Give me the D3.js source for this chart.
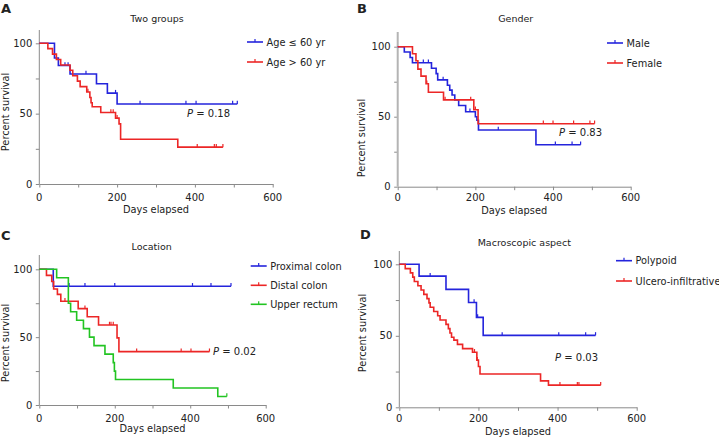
<!DOCTYPE html>
<html><head><meta charset="utf-8">
<script src="https://cdnjs.cloudflare.com/ajax/libs/d3/7.8.5/d3.min.js"></script>
<style>
body{margin:0;background:#fff;}
svg{display:block;}
text{font-family:"DejaVu Sans",Verdana,sans-serif;fill:#222;}
</style></head><body>
<svg id="c" width="719" height="443"></svg>
<script>
// ---------- DATA ----------
const xTicks = [0,100,200,300,400,500,600];
const xTickLabels = [0,200,400,600];
const yTicks = [0,25,50,75,100];
const yTickLabels = [0,50,100];

// Panel A: Two groups
const aLowTimes = [39,49,79,147,175,200];
const aLowSurv  = [89.5,84.2,78.2,71.3,64.6,56.9];
const aLowCens  = [66,74,120,196,259,377,403,497,509];
const aHighTimes = [22,34,44,55,79,86,98,105,122,130,133,136,158,196,205,209,356];
const aHighSurv  = [96.2,92.3,88.5,84.6,80.8,76.9,73.1,69.2,65.4,61.5,57.7,54.9,50.8,46.8,42.7,31.8,26.2];
const aHighCens  = [125,184,190,200,406,450,455,472];

// Panel B: Gender
const bMaleTimes = [17,32,38,87,99,103,128,134,140,147,157,175,200,204,208,356];
const bMaleSurv  = [96.2,92.3,88.5,84.6,80.8,76.3,72.5,69,65.5,62,58,53.5,50,47.5,40.5,30];
const bMaleCens  = [66,79,117,186,259,406,449,471];
const bFemTimes = [38,47,52,60,73,79,118,196,207];
const bFemSurv  = [95,90,84,79,73.5,67.5,62,55,45];
const bFemCens  = [75,122,188,200,375,400,453,495,507];

// Panel C: Location
const cProxTimes = [37];
const cProxSurv  = [87.5];
const cProxCens  = [79,121,200,406,455,508];
const cDistTimes = [19,33,38,48,57,103,127,157,206,211];
const cDistSurv  = [95.5,91,85.5,81.5,76.5,71,65,59,49.5,39.3];
const cDistCens  = [68,121,186,190,196,258,376,402,451];
const cRectTimes = [46,77,83,99,117,133,145,174,196,199,202,355,473];
const cRectSurv  = [93.75,75,68.75,62.5,56.25,50,43.75,37.5,31.25,25,18.75,12.5,6.25];
const cRectCens  = [497];

// Panel D: Macroscopic aspect
const dPolyTimes = [50,118,175,195,212];
const dPolySurv  = [91.7,82.5,73.3,62.9,50.3];
const dPolyCens  = [78,189,198,260,403,471,496];
const dUlcTimes = [15,28,34,38,47,55,62,70,75,78,87,97,103,118,124,128,132,138,147,160,185,196,200,204,357,377];
const dUlcSurv  = [97,94,91,88,85,82,79,76,73,70,67,64,61,58,55,52,49,47,44,41,38.5,33,28.5,23.3,18.5,15.5];
const dUlcCens  = [190,197,406,450,454,509];

const titles = ["Two groups","Gender","Location","Macroscopic aspect"];
const letters = ["A","B","C","D"];
const pValues = ["0.18","0.83","0.02","0.03"];

const BLUE="#2424dc", RED="#ec2626", GREEN="#22c422";

const panels = [
 {x0:39.3,x1:272.7,yb:184,yt:43.3,axTop:30, tx:157,ty:22, lx:1,ly:12.5, ylx:6,yly:112, pX:187,pY:117,
  xlY:213,tlY:200.5, legX:247,legY:[42,62], series:[
   {name:"Age \u2264 60 yr",color:BLUE,t:aLowTimes,s:aLowSurv,c:aLowCens},
   {name:"Age > 60 yr",color:RED,t:aHighTimes,s:aHighSurv,c:aHighCens}]},
 {x0:397.7,x1:630.7,yb:186.7,yt:46.7,axTop:32, tx:515.7,ty:22, lx:357,ly:13, ylx:362,yly:138, pX:559,pY:136,
  xlY:214,tlY:201, legX:607,legY:[43,63], series:[
   {name:"Male",color:BLUE,t:bMaleTimes,s:bMaleSurv,c:bMaleCens},
   {name:"Female",color:RED,t:bFemTimes,s:bFemSurv,c:bFemCens}]},
 {x0:39.3,x1:265.7,yb:405,yt:269.3,axTop:255, tx:151.7,ty:250, lx:1,ly:240, ylx:6,yly:343, pX:213,pY:355,
  xlY:432,tlY:421.5, legX:250.7,legY:[266,285.3,304.3], series:[
   {name:"Proximal colon",color:BLUE,t:cProxTimes,s:cProxSurv,c:cProxCens},
   {name:"Distal colon",color:RED,t:cDistTimes,s:cDistSurv,c:cDistCens},
   {name:"Upper rectum",color:GREEN,t:cRectTimes,s:cRectSurv,c:cRectCens}]},
 {x0:399.3,x1:636.7,yb:407.3,yt:264.3,axTop:251, tx:524.3,ty:245.5, lx:360,ly:238.5, ylx:363,yly:333, pX:555,pY:360.5,
  xlY:435,tlY:421.5, legX:616,legY:[260.7,281], series:[
   {name:"Polypoid",color:BLUE,t:dPolyTimes,s:dPolySurv,c:dPolyCens},
   {name:"Ulcero-infiltrative",color:RED,t:dUlcTimes,s:dUlcSurv,c:dUlcCens}]}
];

const svg = d3.select("#c");
const FS = 9.5;

panels.forEach((p,i)=>{
  const x = d3.scaleLinear().domain([0,600]).range([p.x0,p.x1]);
  const y = d3.scaleLinear().domain([0,100]).range([p.yb,p.yt]);
  const g = svg.append("g");

  // axes
  const xa = g.append("g").attr("transform",`translate(0,${p.yb})`)
    .call(d3.axisBottom(x).tickValues(xTicks).tickSize(3.5).tickSizeOuter(0)
      .tickFormat(d=> xTickLabels.includes(d)? d : ""));
  xa.select(".domain").attr("stroke","#8a8a8a");
  xa.selectAll(".tick line").attr("stroke","#8a8a8a");
  xa.selectAll(".tick text").remove();
  xTickLabels.forEach(v=>{
    g.append("text").attr("x",x(v)).attr("y",p.tlY).attr("text-anchor","middle")
     .attr("font-size",FS+0.5).text(v);
  });

  const ya = g.append("g").attr("transform",`translate(${p.x0},0)`)
    .call(d3.axisLeft(y).tickValues(yTicks).tickSize(3.5).tickSizeOuter(0).tickFormat(""));
  ya.select(".domain").remove();
  ya.selectAll(".tick line").attr("stroke","#8a8a8a");
  g.append("line").attr("x1",p.x0).attr("x2",p.x0).attr("y1",p.yb).attr("y2",p.axTop)
    .attr("stroke", i===1? "#b4b4b4":"#8a8a8a").attr("stroke-width", i===1?2:1);
  yTickLabels.forEach(v=>{
    g.append("text").attr("x",p.x0-7).attr("y",y(v)).attr("dy","0.36em")
     .attr("text-anchor","end").attr("font-size",FS+0.5).text(v);
  });

  // labels
  g.append("text").attr("x",p.tx).attr("y",p.ty).attr("text-anchor","middle")
    .attr("font-size",FS).text(titles[i]);
  g.append("text").attr("x",(p.x0+p.x1)/2).attr("y",p.xlY).attr("text-anchor","middle")
    .attr("font-size",FS+0.3).text("Days elapsed");
  g.append("text").attr("transform",`translate(${p.ylx},${p.yly}) rotate(-90)`)
    .attr("dy","0.35em").attr("text-anchor","middle").attr("font-size",FS+0.3).text("Percent survival");
  g.append("text").attr("x",p.lx).attr("y",p.ly).attr("font-family","'Liberation Sans',Arial,sans-serif")
    .attr("font-weight","bold").attr("font-size",13).text(letters[i]);
  const pt = g.append("text").attr("x",p.pX).attr("y",p.pY).attr("font-size",FS+0.5);
  pt.append("tspan").attr("font-style","italic").text("P");
  pt.append("tspan").text(" = "+pValues[i]);

  // curves
  p.series.forEach((s,k)=>{
    const end = Math.max(d3.max(s.c)||0, d3.max(s.t));
    const pts = [[0,100]];
    s.t.forEach((t,j)=>pts.push([t,s.s[j]]));
    pts.push([end, s.s[s.s.length-1]]);
    const survAt = t => { let v=100; s.t.forEach((tt,j)=>{ if(tt<=t) v=s.s[j]; }); return v; };
    const line = d3.line().x(d=>x(d[0])).y(d=>y(d[1])).curve(d3.curveStepAfter);
    g.append("path").attr("d",line(pts)).attr("fill","none").attr("stroke",s.color)
      .attr("stroke-width",1.6).attr("stroke-linejoin","miter");
    s.c.forEach(ct=>{
      g.append("line").attr("x1",x(ct)).attr("x2",x(ct)).attr("y1",y(survAt(ct)))
       .attr("y2",y(survAt(ct))-3.2).attr("stroke",s.color).attr("stroke-width",1.2);
    });
    // legend
    const ly = p.legY[k];
    g.append("line").attr("x1",p.legX).attr("x2",p.legX+16).attr("y1",ly).attr("y2",ly)
      .attr("stroke",s.color).attr("stroke-width",1.6);
    g.append("line").attr("x1",p.legX+8).attr("x2",p.legX+8).attr("y1",ly).attr("y2",ly-3)
      .attr("stroke",s.color).attr("stroke-width",1.2);
    g.append("text").attr("x",p.legX+19.5).attr("y",ly).attr("dy","0.36em")
      .attr("font-size",FS+0.3).text(s.name);
  });
});
</script>
</body></html>
